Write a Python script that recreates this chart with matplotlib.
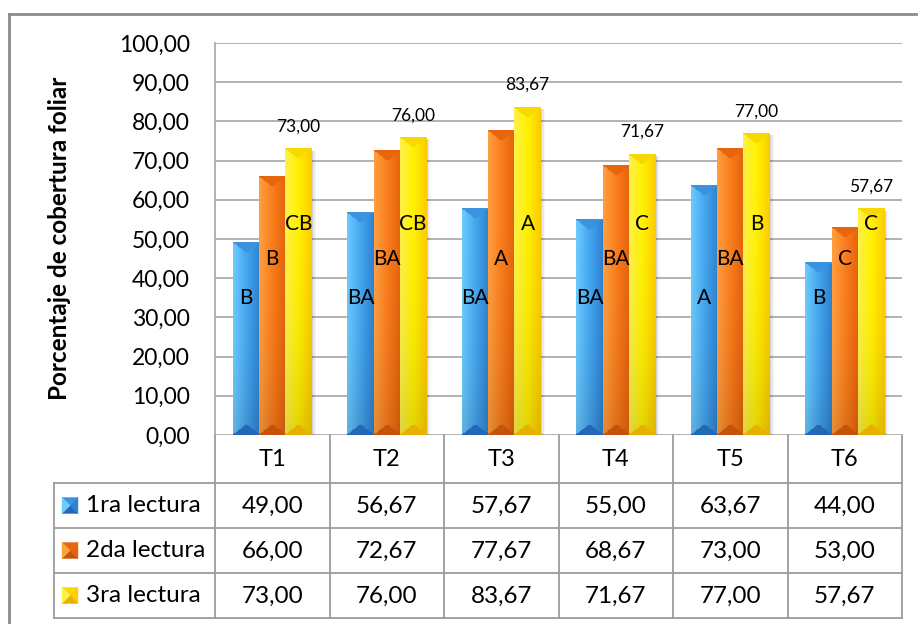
import numpy as np
import matplotlib
matplotlib.use("Agg")
import matplotlib.pyplot as plt
from matplotlib.patches import Rectangle, Polygon
from matplotlib.ticker import FuncFormatter

plt.rcParams["font.family"] = ["Lato", "DejaVu Sans"]

# ----------------------------
# Data
# ----------------------------
treatments = ["T1", "T2", "T3", "T4", "T5", "T6"]
series_names = ["1ra lectura", "2da lectura", "3ra lectura"]
lectura_1 = [49.00, 56.67, 57.67, 55.00, 63.67, 44.00]
lectura_2 = [66.00, 72.67, 77.67, 68.67, 73.00, 53.00]
lectura_3 = [73.00, 76.00, 83.67, 71.67, 77.00, 57.67]
letters_1 = ["B", "BA", "BA", "BA", "A", "B"]
letters_2 = ["B", "BA", "A", "BA", "BA", "C"]
letters_3 = ["CB", "CB", "A", "C", "B", "C"]
y_label = "Porcentaje de cobertura foliar"

series = [lectura_1, lectura_2, lectura_3]
letters = [letters_1, letters_2, letters_3]

# gradient stops (left, middle, right), chevron shade, bottom shade
palettes = [
    dict(left="#6ccaff", mid="#45a7ee", right="#2f82d2", top="#3b93e0", bot="#2367b8"),
    dict(left="#ffa040", mid="#fb7d1c", right="#e4630c", top="#e8650f", bot="#c7520a"),
    dict(left="#fff04a", mid="#fff200", right="#ffcc00", top="#f7d900", bot="#e8b000"),
]
letter_heights = [35, 45, 53.8]


def fmt(v):
    return f"{v:.2f}".replace(".", ",")


def hex2rgb(h):
    return np.array(matplotlib.colors.to_rgb(h))


def bar_image(pal, w_px, h_px):
    w_px = max(int(round(w_px)), 2)
    h_px = max(int(round(h_px)), 2)
    xs = np.linspace(0, 1, w_px)
    left, mid, right = hex2rgb(pal["left"]), hex2rgb(pal["mid"]), hex2rgb(pal["right"])
    row = np.empty((w_px, 3))
    for k, t in enumerate(xs):
        if t < 0.5:
            row[k] = left + (mid - left) * (t / 0.5)
        else:
            row[k] = mid + (right - mid) * ((t - 0.5) / 0.5)
    img = np.tile(row, (h_px, 1, 1))
    # slight darkening towards the base
    fade = np.linspace(0, 1, h_px)[:, None, None] ** 3 * 0.12
    img = img * (1 - fade)
    # chevrons at top and bottom
    half = w_px / 2.0
    yy, xx = np.mgrid[0:h_px, 0:w_px]
    depth = (half - np.abs(xx + 0.5 - half)) * 0.8
    top_mask = yy < depth
    bot_mask = (h_px - 1 - yy) < depth
    img[top_mask] = hex2rgb(pal["top"])
    img[bot_mask] = hex2rgb(pal["bot"])
    return np.clip(img, 0, 1)


# ----------------------------
# Figure
# ----------------------------
W, H = 918, 624
fig = plt.figure(figsize=(W / 100, H / 100), dpi=100)

x_left, x_right = 215, 902
y_top, y_zero = 43, 435
ax = fig.add_axes([x_left / W, (H - y_zero) / H, (x_right - x_left) / W, (y_zero - y_top) / H])
ax.set_zorder(2)

n = len(treatments)
x = np.arange(n)
bar_w = 0.23
px_per_x = (x_right - x_left) / n
px_per_y = (y_zero - y_top) / 100.0

for s, vals in enumerate(series):
    offset = (s - 1) * bar_w
    for i, v in enumerate(vals):
        x0 = x[i] + offset - bar_w / 2
        # soft shadow on the right
        for k, a in enumerate([0.10, 0.06, 0.03]):
            ax.add_patch(Rectangle((x0 + bar_w, 0), (k + 1) * 1.5 / px_per_x, v - 0.5,
                                   facecolor="black", alpha=a, edgecolor="none", zorder=1.5))
        img = bar_image(palettes[s], bar_w * px_per_x, v * px_per_y)
        ax.imshow(img, extent=[x0, x0 + bar_w, 0, v], aspect="auto",
                  interpolation="bilinear", zorder=2)
        ax.text(x[i] + offset, letter_heights[s], letters[s][i], ha="center", va="center",
                fontsize=15, color="black", zorder=4)

# values above the third reading
for i, v in enumerate(lectura_3):
    ax.text(x[i] + bar_w, v + 5.6, fmt(v), ha="center", va="center",
            fontsize=12.5, color="black", zorder=4)

ax.set_xlim(-0.5, n - 0.5)
ax.set_ylim(0, 100)
ax.set_yticks(np.arange(0, 101, 10))
ax.yaxis.set_major_formatter(FuncFormatter(lambda v, p: fmt(v)))
ax.tick_params(axis="y", length=0, pad=18, labelsize=16.5)
ax.set_xticks([])
ax.yaxis.grid(True, color="#a6a6a6", linewidth=1.2)
ax.set_axisbelow(True)
for side in ["top", "right", "bottom"]:
    ax.spines[side].set_visible(False)
ax.spines["left"].set_color("#a6a6a6")
ax.spines["left"].set_linewidth(1.2)
ax.patch.set_alpha(0)

fig.text(60 / W, 1 - 238 / H, y_label, rotation=90, ha="center", va="center",
         fontsize=17.5, fontweight="bold")

# ----------------------------
# Data table (pixel coordinates)
# ----------------------------
pax = fig.add_axes([0, 0, 1, 1])
pax.set_xlim(0, W)
pax.set_ylim(H, 0)
pax.axis("off")
pax.set_zorder(1)

line_kw = dict(color="#9c9c9c", linewidth=1.3)
col_edges = [x_left + i * px_per_x for i in range(n + 1)]
leg_left = 54
row_edges = [y_zero, 483, 528, 573, 618]

# header row
for xe in col_edges:
    pax.plot([xe, xe], [row_edges[0], row_edges[-1]], **line_kw)
for ye in row_edges[1:]:
    pax.plot([leg_left, x_right], [ye, ye], **line_kw)
pax.plot([leg_left, leg_left], [row_edges[1], row_edges[-1]], **line_kw)

for i, t in enumerate(treatments):
    cx = (col_edges[i] + col_edges[i + 1]) / 2
    pax.text(cx, (row_edges[0] + row_edges[1]) / 2, t, ha="center", va="center", fontsize=17)

for s, vals in enumerate(series):
    cy = (row_edges[s + 1] + row_edges[s + 2]) / 2
    for i, v in enumerate(vals):
        cx = (col_edges[i] + col_edges[i + 1]) / 2
        pax.text(cx, cy + 1, fmt(v), ha="center", va="center", fontsize=17.5)
    # legend key: small beveled square
    pal = palettes[s]
    kx0, ky0, ks = 62, cy - 8, 16
    c = (kx0 + ks / 2, ky0 + ks / 2)
    corners = [(kx0, ky0), (kx0 + ks, ky0), (kx0 + ks, ky0 + ks), (kx0, ky0 + ks)]
    shades = [pal["top"], pal["right"], pal["bot"], pal["left"]]
    for k in range(4):
        pax.add_patch(Polygon([corners[k], corners[(k + 1) % 4], c], closed=True,
                              facecolor=shades[k], edgecolor=shades[k], linewidth=0.3))
    pax.text(86, cy, series_names[s], ha="left", va="center", fontsize=17.5)

# outer chart frame
pax.plot([8.5, W], [14, 14], color="#8c8c8c", linewidth=2)
pax.plot([9, 9], [14, H], color="#8c8c8c", linewidth=2)

fig.savefig("out.png", dpi=100)
